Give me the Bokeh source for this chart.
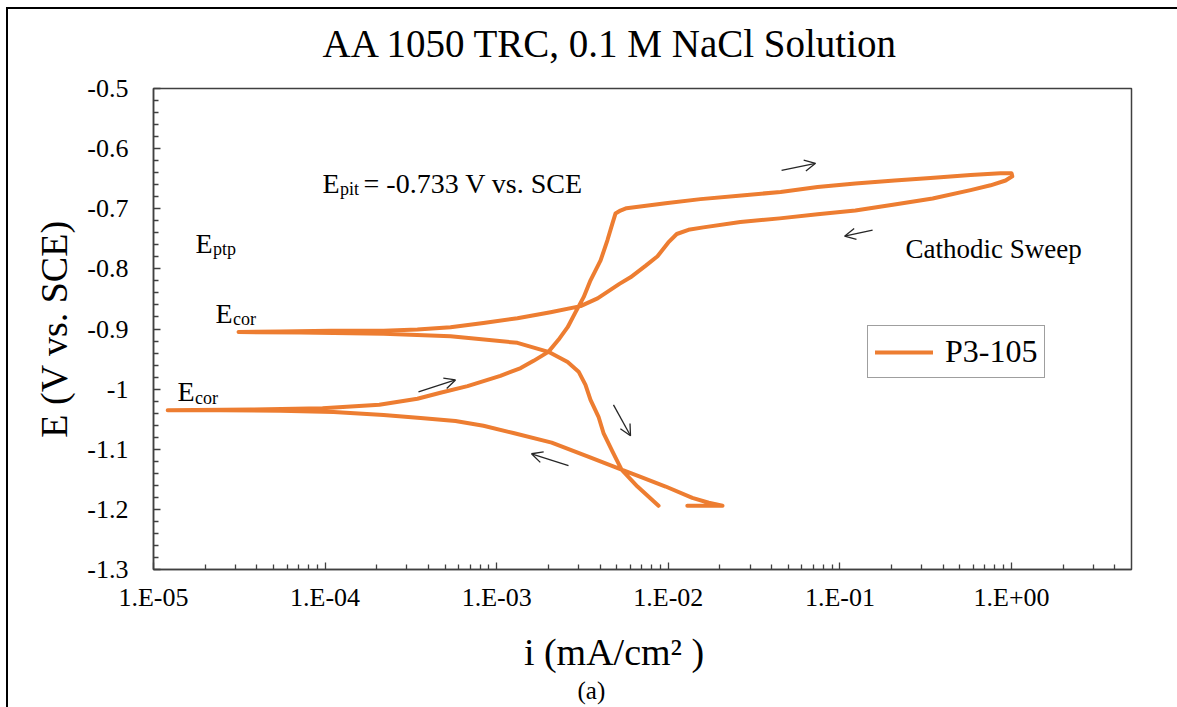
from bokeh.plotting import figure
from bokeh.models import (Range1d, FixedTicker, CustomJSTickFormatter, Label,
                          Arrow, OpenHead, Legend, Title)
from bokeh.embed import file_html
from bokeh.resources import INLINE

# ---------------- data ----------------
# forward scan: initial cathodic branch -> lower Ecor -> anodic branch -> apex
fwd_i = [1.29e-2, 2.07e-2, 1.72e-2, 1.38e-2, 9.64e-3, 6.89e-3, 5.34e-3, 3.47e-3, 2.09e-3,
         1.25e-3, 8.37e-4, 5.75e-4, 3.60e-4, 2.19e-4, 1.12e-4, 5.50e-5, 2.46e-5, 1.21e-5,
         3.67e-5, 9.66e-5, 2.07e-4, 3.45e-4, 4.70e-4, 6.76e-4, 1.05e-3, 1.38e-3, 1.64e-3,
         2.00e-3, 2.29e-3, 2.59e-3, 2.88e-3, 3.21e-3, 3.52e-3, 4.03e-3, 4.42e-3, 4.73e-3,
         4.92e-3, 5.26e-3,
         5.71e-3, 9.64e-3, 1.54e-2, 2.67e-2, 4.51e-2, 7.41e-2, 0.123, 0.208, 0.337, 0.577,
         0.863, 1.0]
fwd_E = [-1.194, -1.194, -1.189, -1.181, -1.162, -1.146, -1.134, -1.113, -1.089,
         -1.073, -1.061, -1.053, -1.048, -1.043, -1.038, -1.036, -1.035, -1.035,
         -1.034, -1.032, -1.026, -1.016, -1.006, -0.995, -0.978, -0.965, -0.953,
         -0.938, -0.918, -0.897, -0.872, -0.847, -0.819, -0.786, -0.752, -0.724,
         -0.708, -0.703,
         -0.699, -0.691, -0.684, -0.678, -0.672, -0.664, -0.658, -0.653, -0.649, -0.644,
         -0.641, -0.641]
# reverse (cathodic) sweep: apex -> upper Ecor -> cathodic branch
rev_i = [1.01, 0.923, 0.755, 0.577, 0.347, 0.208, 0.123, 7.41e-2, 4.45e-2, 2.63e-2,
         1.60e-2, 1.31e-2, 1.12e-2, 1.00e-2, 8.65e-3, 7.36e-3, 6.02e-3, 5.19e-3, 3.87e-3,
         3.08e-3, 2.06e-3, 1.32e-3, 8.37e-4, 5.38e-4, 3.45e-4, 2.19e-4, 1.08e-4, 5.50e-5,
         3.13e-5,
         7.19e-5, 2.19e-4, 5.38e-4, 1.32e-3, 2.00e-3, 2.59e-3, 3.00e-3, 3.29e-3, 3.52e-3,
         3.92e-3, 4.19e-3, 4.73e-3, 5.34e-3, 6.61e-3, 8.77e-3]
rev_E = [-0.646, -0.653, -0.661, -0.669, -0.683, -0.693, -0.703, -0.709, -0.716, -0.722,
         -0.731, -0.735, -0.742, -0.756, -0.779, -0.795, -0.814, -0.825, -0.849,
         -0.862, -0.872, -0.882, -0.890, -0.897, -0.901, -0.903, -0.903, -0.904,
         -0.905,
         -0.906, -0.908, -0.912, -0.923, -0.938, -0.955, -0.971, -0.993, -1.018,
         -1.046, -1.073, -1.104, -1.134, -1.162, -1.194]

series_name = "P3-105"
x_ticks = [1e-5, 1e-4, 1e-3, 1e-2, 1e-1, 1e0]
x_tick_labels = ["1.E-05", "1.E-04", "1.E-03", "1.E-02", "1.E-01", "1.E+00"]
y_ticks = [-1.3, -1.2, -1.1, -1.0, -0.9, -0.8, -0.7, -0.6, -0.5]
y_tick_labels = ["-1.3", "-1.2", "-1.1", "-1", "-0.9", "-0.8", "-0.7", "-0.6", "-0.5"]

# ---------------- styling ----------------
SERIF = "Liberation Serif"
ORANGE = "#ED7D31"
AXIS = "#404040"
ARROW = "#262626"
NBSP = "\u00a0"

p = figure(width=1177, height=707, x_axis_type="log",
           x_range=Range1d(1e-5, 5), y_range=Range1d(-1.3, -0.5),
           output_backend="svg", toolbar_location=None,
           min_border_left=153, min_border_right=46,
           min_border_top=88, min_border_bottom=137)
# the thin panel frame (left and top edges) of the original figure
p.styles = {"background": "linear-gradient(#000, #000) 6px 7px / 2px 700px no-repeat, "
                          "linear-gradient(#000, #000) 6px 7px / 1171px 2px no-repeat"}
p.border_fill_alpha = 0.0
p.grid.visible = False
p.outline_line_color = AXIS
p.outline_line_width = 1.5
p.background_fill_color = "white"

# chart title
title = Title(text="AA 1050 TRC, 0.1 M NaCl Solution", align="left", offset=169,
              vertical_align="top", standoff=37, text_font=SERIF,
              text_font_size="39px", text_font_style="normal", text_color="black")
try:
    title.padding = (0, 0, 0, 22)   # (left, right, top, bottom)
    title.standoff = 0
except Exception:
    pass
p.add_layout(title, "above")

x_minor = [m * d for d in [1e-5, 1e-4, 1e-3, 1e-2, 1e-1] for m in range(2, 10)] + [2.0, 3.0, 4.0]
y_minor = [round(-1.3 + 0.02 * k, 2) for k in range(41) if k % 5 != 0]

p.xaxis.ticker = FixedTicker(ticks=x_ticks, minor_ticks=x_minor)
p.xaxis.formatter = CustomJSTickFormatter(args=dict(labels=x_tick_labels), code="""
    const k = Math.round(Math.log10(tick)) + 5;
    return labels[k];
""")
p.yaxis.ticker = FixedTicker(ticks=y_ticks, minor_ticks=y_minor)
p.yaxis.formatter = CustomJSTickFormatter(args=dict(labels=y_tick_labels), code="""
    const k = Math.round((tick + 1.3) / 0.1);
    return labels[k];
""")

for ax in (p.xaxis, p.yaxis):
    ax.axis_line_color = AXIS
    ax.axis_line_width = 1.5
    ax.major_tick_line_color = AXIS
    ax.minor_tick_line_color = AXIS
    ax.major_tick_line_width = 1.3
    ax.minor_tick_line_width = 1.3
    ax.major_tick_in = 7
    ax.major_tick_out = 0
    ax.minor_tick_in = 5
    ax.minor_tick_out = 0
    ax.major_label_text_font = SERIF
    ax.major_label_text_font_size = "26px"
    ax.major_label_text_color = "black"
    ax.axis_label_text_font = SERIF
    ax.axis_label_text_font_size = "38px"
    ax.axis_label_text_font_style = "normal"
    ax.axis_label_text_color = "black"

p.xaxis.major_label_standoff = 13
p.yaxis.major_label_standoff = 25
p.yaxis.axis_label = "E (V vs. SCE)"
p.yaxis.axis_label_standoff = 9
# trailing no-break spaces nudge the centred label left, as in the original
p.xaxis.axis_label = "i (mA/cm² )" + NBSP * 6
p.xaxis.axis_label_standoff = 16

p.add_layout(Title(text="(a)", align="left", offset=424, vertical_align="top",
                   standoff=3, text_font=SERIF, text_font_size="25px",
                   text_font_style="normal", text_color="black"), "below")

# ---------------- the curve ----------------
i_all = fwd_i + rev_i
E_all = fwd_E + rev_E
r = p.line(i_all, E_all, line_color=ORANGE, line_width=4,
           line_join="round", line_cap="round")

legend = Legend(items=[(series_name, [r])], location=(714, 191))
legend.label_text_font = SERIF
legend.label_text_font_size = "32px"
legend.label_text_color = "black"
legend.glyph_width = 58
legend.glyph_height = 24
legend.label_standoff = 12
legend.padding = 7
legend.margin = 0
legend.spacing = 0
legend.border_line_color = AXIS
legend.border_line_width = 1.5
legend.background_fill_color = "white"
legend.background_fill_alpha = 1.0
p.add_layout(legend)

# ---------------- in-plot texts ----------------
def lab(x, y, text, size, xo=0, yo=0):
    p.add_layout(Label(x=x, y=y, text=text, x_offset=xo, y_offset=yo,
                       text_font=SERIF, text_font_size=size, text_color="black",
                       text_align="left", text_baseline="alphabetic"))

def sub_label(x, y, sub, rest=None):
    lab(x, y, "E", "28px")
    lab(x, y, sub, "18px", xo=17.5, yo=-6)
    if rest:
        lab(x, y, rest, "28px", xo=41)

sub_label(9.66e-5, -0.6577, "pit", "= -0.733 V vs. SCE")
sub_label(1.757e-5, -0.7573, "ptp")
sub_label(2.30e-5, -0.8735, "cor")
sub_label(1.38e-5, -1.0046, "cor")
lab(0.241, -0.7672, "Cathodic Sweep", "27px")

# sweep-direction arrows
arrows = [
    (0.0457, -0.6361, 0.0721, -0.6245),
    (0.155, -0.7357, 0.1064, -0.7457),
    (3.50e-4, -1.0046, 5.75e-4, -0.9847),
    (4.79e-3, -1.0262, 6.02e-3, -1.0776),
    (2.62e-3, -1.1274, 1.595e-3, -1.1075),
]
for xs, ys, xe, ye in arrows:
    p.add_layout(Arrow(end=OpenHead(size=11, line_color=ARROW, line_width=1.3),
                       x_start=xs, y_start=ys, x_end=xe, y_end=ye,
                       line_color=ARROW, line_width=1.3))

open("out.html", "w").write(file_html(p, INLINE))
